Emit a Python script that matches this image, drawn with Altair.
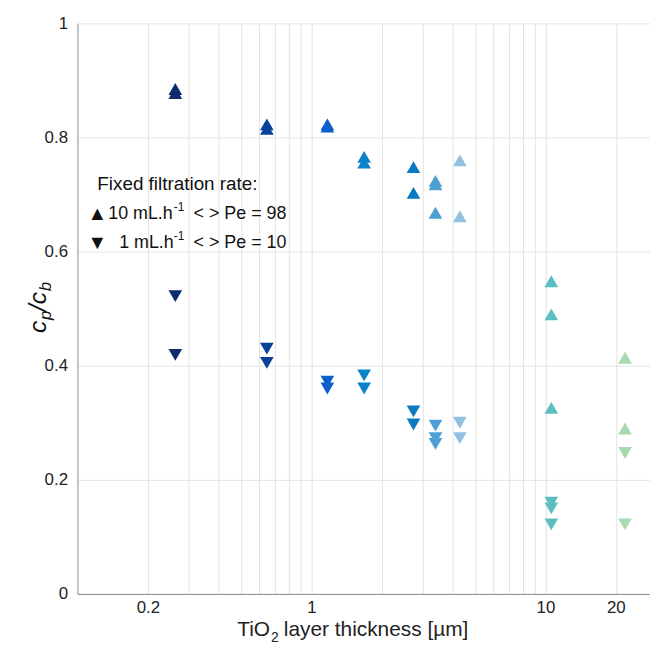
import altair as alt
import pandas as pd

# ---- data ----
groups = ["g1", "g2", "g3", "g4", "g5", "g6", "g7", "g8", "g9"]
thickness = [0.262, 0.645, 1.17, 1.68, 2.73, 3.39, 4.31, 10.6, 21.9]
colors = ["#0b2d6e", "#0a419b", "#0b5fcb", "#0a82c8", "#0a7bc1",
          "#4e9fd3", "#92c1e2", "#5dbec2", "#a9d9b1"]
high_rate = [[0.885, 0.878], [0.823, 0.815], [0.823, 0.819], [0.766, 0.756],
             [0.748, 0.703], [0.724, 0.718, 0.668], [0.760, 0.662],
             [0.548, 0.490, 0.326], [0.414, 0.290]]
low_rate = [[0.522, 0.419], [0.430, 0.405], [0.372, 0.360], [0.383, 0.360],
            [0.320, 0.297], [0.295, 0.273, 0.263], [0.300, 0.273],
            [0.160, 0.150, 0.122], [0.247, 0.122]]

x_grid = [0.2, 0.3, 0.4, 0.5, 0.6, 0.7, 0.8, 0.9, 1, 2, 3, 4, 5, 6, 7, 8, 9, 10, 20]
x_labels = [0.2, 1, 10, 20]
y_ticks = [0, 0.2, 0.4, 0.6, 0.8, 1]

rows = []
for g, t, hs, ls in zip(groups, thickness, high_rate, low_rate):
    for v in hs:
        rows.append({"group": g, "t": t, "c": v, "rate": "10"})
    for v in ls:
        rows.append({"group": g, "t": t, "c": v, "rate": "1"})
df = pd.DataFrame(rows)

FONT = "Liberation Sans"
W, H = 577, 575

xscale = alt.Scale(type="log", domain=[0.1, 28], nice=False)
yscale = alt.Scale(domain=[0, 1], nice=False)

label_expr = "indexof([0.2,1,10,20], datum.value) >= 0 ? format(datum.value, '~g') : ''"

points = alt.Chart(df).mark_point(filled=True, opacity=1, size=190).encode(
    x=alt.X("t:Q", scale=xscale,
            axis=alt.Axis(values=x_grid, labelExpr=label_expr, title=None,
                          grid=True, gridColor="#e4e4e4", ticks=False,
                          domainColor="#8c8c8c", labelFont=FONT, labelFontSize=17,
                          labelColor="#222", labelPadding=6, labelFlush=False)),
    y=alt.Y("c:Q", scale=yscale,
            axis=alt.Axis(values=y_ticks, format="~g", title=None, grid=True,
                          gridColor="#e4e4e4", ticks=False, domainColor="#8c8c8c",
                          labelFont=FONT, labelFontSize=17, labelColor="#222",
                          labelPadding=10)),
    color=alt.Color("group:N", scale=alt.Scale(domain=groups, range=colors), legend=None),
    shape=alt.Shape("rate:N", scale=alt.Scale(domain=["10", "1"],
                                               range=["triangle-up", "triangle-down"]),
                    legend=None),
)

def txt(s, x, y, size=18, angle=0, style="normal", align="left", baseline="middle", color="#111"):
    return alt.Chart(pd.DataFrame({"s": [s]})).mark_text(
        font=FONT, fontSize=size, angle=angle, fontStyle=style, align=align,
        baseline=baseline, color=color).encode(
        x=alt.value(x), y=alt.value(y), text="s:N")

legend = [
    txt("Fixed filtration rate:", 20, 162, size=19),
    txt("▲", 20, 192, size=20, align="center"),
    txt("10 mL.h", 31, 192),
    txt("-1", 97, 185, size=12),
    txt("< > Pe = 98", 117, 192),
    txt("▼", 20, 221, size=20, align="center"),
    txt("1 mL.h", 42, 221),
    txt("-1", 97, 214, size=12),
    txt("< > Pe = 10", 117, 221),
]
ytitle = [
    txt("c", -32, 312, size=25, angle=270, style="italic", baseline="alphabetic"),
    txt("p", -27, 299, size=17, angle=270, style="italic", baseline="alphabetic"),
    txt("/c", -32, 290, size=25, angle=270, style="italic", baseline="alphabetic"),
    txt("b", -27, 270, size=17, angle=270, style="italic", baseline="alphabetic"),
]
xtitle = [
    txt("TiO", 161, 611, size=21, color="#222"),
    txt("2", 195, 619, size=14, color="#222"),
    txt("layer thickness [µm]", 208, 611, size=21, color="#222"),
]

chart = alt.layer(points, *legend, *ytitle, *xtitle).properties(
    width=W, height=H,
    autosize=alt.AutoSizeParams(type="none"),
    padding={"left": 70, "top": 13, "right": 0, "bottom": 52},
).configure_view(stroke=None).configure_axisX(domain=True).configure_axisY(domain=True)

chart.save("out.html", embed_options={"renderer": "svg", "actions": False})
